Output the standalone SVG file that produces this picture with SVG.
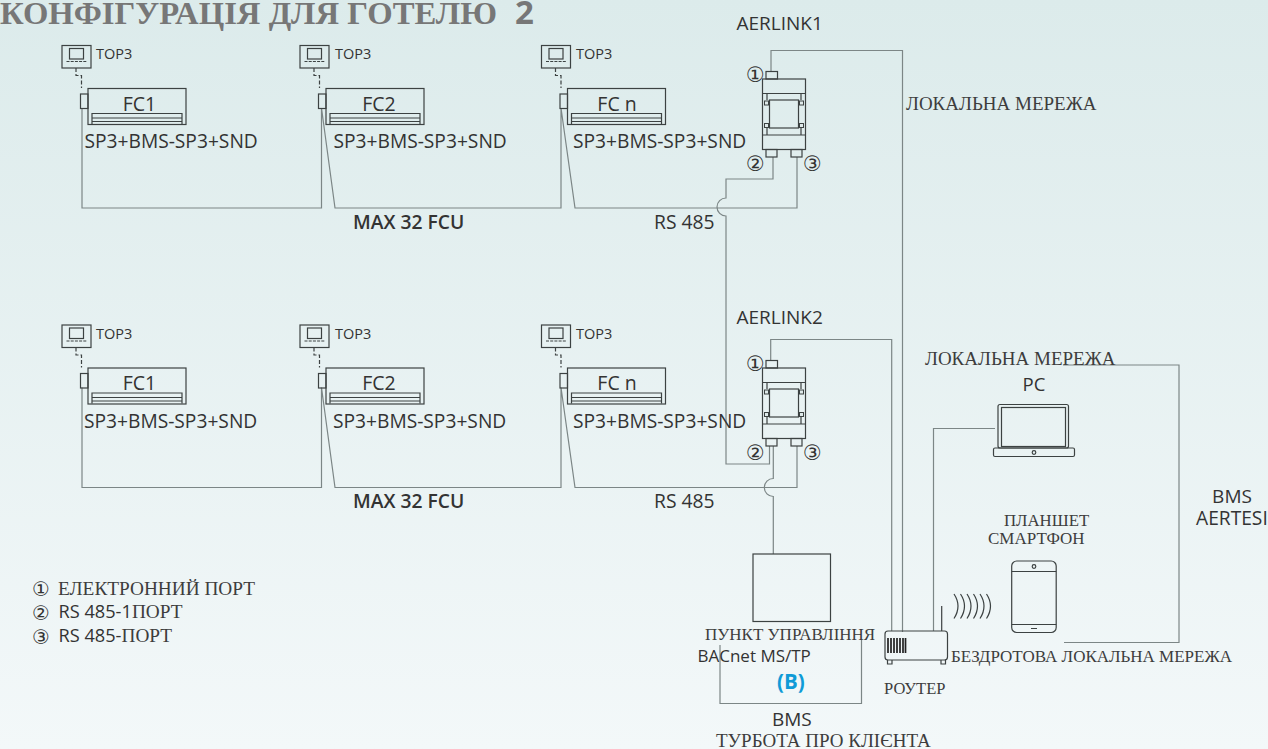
<svg xmlns="http://www.w3.org/2000/svg" xmlns:xlink="http://www.w3.org/1999/xlink" width="1268" height="749" viewBox="0 0 1268 749">
<style>
.s{font-family:"Open Sans","Noto Sans",sans-serif;fill:#333;}
.r{font-family:"Liberation Serif","Times New Roman",serif;fill:#3d3d3d;}
.c{font-family:"DejaVu Sans",sans-serif;fill:#333;}
.w{fill:none;stroke:#7c8686;stroke-width:1.2;}
.d{fill:none;stroke:#3c4242;stroke-width:1.2;}
</style>
<defs>
<linearGradient id="bg" x1="0" y1="0" x2="0" y2="1"><stop offset="0" stop-color="#dcebeb"/><stop offset="1" stop-color="#f3f8f9"/></linearGradient>
<g id="fan">
<rect class="d" x="62" y="45.500" width="29" height="22.500"/>
<rect class="d" x="69.500" y="48.500" width="14" height="10.500"/>
<path class="d" d="M66.500 61.500H87.500" stroke-dasharray="3 1.200"/>
<path class="d" d="M76 68V75.500H81.500V88" stroke-dasharray="4 2"/>
<rect class="d" x="80.500" y="94" width="7.500" height="14.500"/>
<rect class="d" x="88" y="88.500" width="98" height="36"/>
<path class="d" d="M92 124V113.500H182V124M92 118H182M92 121.500H182"/>
</g>
<g id="aer">
<rect class="d" x="766" y="71.500" width="11.500" height="7.500"/>
<rect class="d" x="762.500" y="79" width="43" height="70.500"/>
<path class="d" d="M762.500 93.500H805.500M762.500 135H805.500"/>
<rect class="d" x="769.500" y="100" width="29" height="28"/>
<path class="d" d="M767 93.500V100M801 93.500V100M767 128V135M801 128V135"/>
<rect x="764.500" y="101" width="4" height="4" fill="#dfeaea" stroke="#3c4242"/>
<rect x="799.500" y="101" width="4" height="4" fill="#dfeaea" stroke="#3c4242"/>
<rect x="764.500" y="123.500" width="4" height="4" fill="#dfeaea" stroke="#3c4242"/>
<rect x="799.500" y="123.500" width="4" height="4" fill="#dfeaea" stroke="#3c4242"/>
<rect class="d" x="766" y="149.500" width="11" height="7.500"/>
<rect class="d" x="791" y="149.500" width="11" height="7.500"/>
<text class="c" x="746" y="82" font-size="21">①</text>
<text class="c" x="746" y="171" font-size="21">②</text>
<text class="c" x="803" y="171" font-size="21">③</text>
</g>
</defs>
<rect width="1268" height="749" fill="url(#bg)"/>
<text class="r" x="0" y="23.500" font-size="32" font-weight="bold" style="fill:#777" textLength="497" lengthAdjust="spacingAndGlyphs">КОНФІГУРАЦІЯ ДЛЯ ГОТЕЛЮ</text>
<text class="s" x="515" y="23.500" font-size="33" font-weight="bold" style="fill:#777">2</text>

<g id="connectors">
<path class="w" d="M82 108V208H321.500V108L335 208H561V108L575 208H797V157"/>
<path class="w" d="M773 157V179H726V198A9 9 0 0 0 726 216V464H769.500V446"/>
<path class="w" d="M771 71V50.500H902.500V632"/>
<path class="w" d="M82 387.500V487.500H321.500V387.500L335 487.500H561V387.500L575 487.500H797V446"/>
<path class="w" d="M773.300 446V478.500A9 9 0 0 0 773.300 496.500V554"/>
<path class="w" d="M770.700 360V339.500H891.700V631"/>
<path class="w" d="M995 428.500H933.500V631"/>
<path class="w" d="M1063 365H1179V642.500H1064"/>
<path class="w" d="M720 645V703.500H861.500V640"/>
</g>

<g id="fc1-1"><use xlink:href="#fan" href="#fan"/><text class="s" x="96" y="59" font-size="14.500">ТОР3</text><text class="s" x="139.500" y="111" font-size="19.500" text-anchor="middle">FC1</text><text class="s" x="84.500" y="148" font-size="19.200">SP3+BMS-SP3+SND</text></g>
<g id="fc2-1"><use xlink:href="#fan" href="#fan" x="238"/><text class="s" x="335" y="59" font-size="14.500">ТОР3</text><text class="s" x="379" y="111" font-size="19.500" text-anchor="middle">FC2</text><text class="s" x="333.500" y="148" font-size="19.200">SP3+BMS-SP3+SND</text></g>
<g id="fcn-1"><use xlink:href="#fan" href="#fan" x="479.500"/><text class="s" x="576" y="59" font-size="14.500">ТОР3</text><text class="s" x="617" y="111" font-size="19.500" text-anchor="middle">FC n</text><text class="s" x="573" y="148" font-size="19.200">SP3+BMS-SP3+SND</text></g>
<g id="fc1-2"><use xlink:href="#fan" href="#fan" y="279.500"/><text class="s" x="96" y="339" font-size="14.500">ТОР3</text><text class="s" x="139.500" y="390" font-size="19.500" text-anchor="middle">FC1</text><text class="s" x="84" y="427.500" font-size="19.200">SP3+BMS-SP3+SND</text></g>
<g id="fc2-2"><use xlink:href="#fan" href="#fan" x="238" y="279.500"/><text class="s" x="335" y="339" font-size="14.500">ТОР3</text><text class="s" x="379" y="390" font-size="19.500" text-anchor="middle">FC2</text><text class="s" x="333" y="427.500" font-size="19.200">SP3+BMS-SP3+SND</text></g>
<g id="fcn-2"><use xlink:href="#fan" href="#fan" x="479.500" y="279.500"/><text class="s" x="576" y="339" font-size="14.500">ТОР3</text><text class="s" x="617" y="390" font-size="19.500" text-anchor="middle">FC n</text><text class="s" x="573" y="427.500" font-size="19.200">SP3+BMS-SP3+SND</text></g>

<g id="aerlink1"><use xlink:href="#aer" href="#aer"/><text class="s" x="736.500" y="30" font-size="19">AERLINK1</text></g>
<g id="aerlink2"><use xlink:href="#aer" href="#aer" y="289"/><text class="s" x="736.500" y="324" font-size="19">AERLINK2</text></g>

<g id="labels">
<text class="s" x="353" y="229" font-size="19.300" font-weight="600">MAX 32 FCU</text>
<text class="s" x="654" y="229" font-size="19.300">RS 485</text>
<text class="s" x="353" y="508" font-size="19.300" font-weight="600">MAX 32 FCU</text>
<text class="s" x="654" y="508" font-size="19.300">RS 485</text>
<text class="r" x="906" y="110" font-size="19">ЛОКАЛЬНА МЕРЕЖА</text>
<text class="r" x="925" y="365" font-size="19">ЛОКАЛЬНА МЕРЕЖА</text>
<text class="s" x="1034" y="391" font-size="18.500" text-anchor="middle">PC</text>
<text class="s" x="1232" y="503" font-size="19" text-anchor="middle">BMS</text>
<text class="s" x="1196" y="525" font-size="19.200">AERTESI</text>
<text class="r" x="1004" y="526" font-size="16.800">ПЛАНШЕТ</text>
<text class="r" x="988" y="544" font-size="17">СМАРТФОН</text>
<text class="r" x="951" y="662" font-size="17">БЕЗДРОТОВА ЛОКАЛЬНА МЕРЕЖА</text>
<text class="r" x="884" y="694" font-size="16.500">РОУТЕР</text>
<text class="s" x="772" y="726" font-size="19">BMS</text>
<text class="r" x="716" y="747" font-size="19">ТУРБОТА ПРО КЛІЄНТА</text>
</g>

<g id="control">
<rect class="d" x="753" y="554" width="77.500" height="67.500"/>
<text class="r" x="705" y="640" font-size="17">ПУНКТ УПРАВЛІННЯ</text>
<text class="s" x="697.500" y="662" font-size="17">BACnet MS/TP</text>
<text class="s" x="777" y="689" font-size="20.500" font-weight="bold" style="fill:#0f9bd7">(B)</text>
</g>

<g id="router">
<rect class="d" x="885" y="631" width="62.500" height="29" rx="3"/>
<path class="d" d="M941.700 606V631" stroke-width="1.800"/>
<path class="d" d="M887.500 660V664H892V660M941 660V664H945.500V660"/>
<path d="M888 638V653M891 638V653M894 638V653M897 638V653M900 638V653M903 638V653M905.500 638V653" stroke="#222" stroke-width="1.700"/>
</g>
<g id="waves" class="d">
<path class="d" d="M954 594Q962 606 954 618.500M960.500 594Q968.500 606 960.500 618.500M967 594Q975 606 967 618.500M973.500 594Q981.500 606 973.500 618.500M980 594Q988 606 980 618.500M986.500 594Q994.500 606 986.500 618.500"/>
</g>

<g id="pc">
<rect class="d" x="998" y="404.500" width="70.500" height="43.500" rx="2"/>
<rect class="d" x="1001.500" y="407.500" width="64" height="39"/>
<rect class="d" x="993.500" y="448" width="81" height="8.500" rx="1.500"/>
<circle class="d" cx="1034" cy="452.500" r="1.800"/>
</g>
<g id="phone">
<rect class="d" x="1011.700" y="561" width="44.500" height="71.500" rx="5"/>
<path class="d" d="M1011.700 571.500H1056.200M1011.700 624.500H1056.200M1031 628.500H1037"/>
<circle class="d" cx="1034" cy="566.500" r="1.800"/>
</g>

<g id="legend">
<text class="c" x="32" y="596" font-size="20">①</text><text class="r" x="58" y="594.500" font-size="19.300">ЕЛЕКТРОННИЙ ПОРТ</text>
<text class="c" x="32" y="619.500" font-size="20">②</text><text class="s" x="58.500" y="618" font-size="18.200">RS 485-1<tspan class="r" font-size="19.300" font-family="Liberation Serif">ПОРТ</tspan></text>
<text class="c" x="32" y="643.500" font-size="20">③</text><text class="s" x="58.500" y="642" font-size="18.200">RS 485-<tspan class="r" font-size="19.300" font-family="Liberation Serif">ПОРТ</tspan></text>
</g>
</svg>
